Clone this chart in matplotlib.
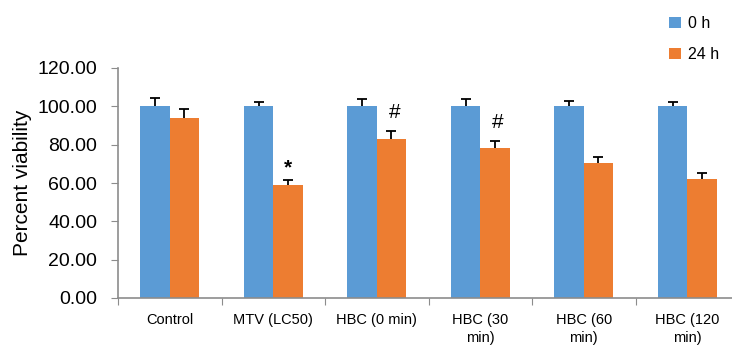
import matplotlib.pyplot as plt
import numpy as np

plt.rcParams['font.family'] = ['Liberation Sans', 'DejaVu Sans']

categories = ["Control", "MTV (LC50)", "HBC (0 min)", "HBC (30\nmin)", "HBC (60\nmin)", "HBC (120\nmin)"]
series_names = ["0 h", "24 h"]
vals_0h = [100.0, 100.0, 100.0, 100.0, 100.0, 100.0]
err_0h = [4.4, 2.1, 3.6, 3.6, 2.9, 2.1]
vals_24h = [94.1, 59.0, 82.8, 78.1, 70.6, 61.9]
err_24h = [4.6, 2.6, 4.5, 3.8, 3.1, 3.1]
marks = ["", "*", "#", "#", "", ""]
y_ticks = [0, 20, 40, 60, 80, 100, 120]

blue = "#5B9BD5"
orange = "#ED7D31"
spine_col = "#8C8C8C"

fig = plt.figure(figsize=(7.32, 3.55), dpi=100)
ax = fig.add_axes([118 / 732, 1 - 298 / 355, 621 / 732, 230 / 355])

x = np.arange(len(categories))
w = 0.285
for xs, vals, errs, col, name in [(x - w / 2, vals_0h, err_0h, blue, series_names[0]),
                                  (x + w / 2, vals_24h, err_24h, orange, series_names[1])]:
    ax.bar(xs, vals, w, color=col, label=name)
    tops = np.array(vals) + np.array(errs)
    # upper error bar only
    ax.vlines(xs, vals, tops, color="black", lw=1.3)
    ax.plot(xs, tops, ls="none", marker="_", ms=7, mew=1.3, color="black")

for i, m in enumerate(marks):
    if m == "*":
        ax.text(x[i] + w / 2, vals_24h[i] + err_24h[i] + 1.5, m, ha="center", va="bottom",
                fontsize=15, fontweight="bold")
    elif m:
        ax.text(x[i] + w / 2 + 0.03, vals_24h[i] + err_24h[i] + 4.5, m, ha="center", va="bottom",
                fontsize=15)

ax.set_xlim(-0.5, len(categories) - 0.5)
ax.set_ylim(0, 120)
ax.set_yticks(y_ticks)
ax.set_yticklabels([f"{v:.2f}" for v in y_ticks], fontsize=14)
ax.set_xticks(np.arange(-0.5, len(categories), 1.0))
ax.set_xticklabels([])
ax.set_xticks(x, minor=True)
ax.set_xticklabels(categories, minor=True, fontsize=10.5, linespacing=1.35)
ax.tick_params(axis="x", which="minor", length=0, pad=11)
ax.tick_params(axis="x", which="major", length=5, color=spine_col)
ax.tick_params(axis="y", length=5, color=spine_col, pad=10)
ax.set_ylabel("Percent viability", fontsize=15, labelpad=4)

for s in ["top", "right"]:
    ax.spines[s].set_visible(False)
for s in ["left", "bottom"]:
    ax.spines[s].set_color(spine_col)
    ax.spines[s].set_linewidth(1.2)

ax.legend(loc="upper left", bbox_to_anchor=(658 / 732, 1 - 5 / 355), bbox_transform=fig.transFigure,
          frameon=False, fontsize=11.5, handlelength=0.75, handleheight=0.75,
          handletextpad=0.4, labelspacing=1.0, borderaxespad=0.3)

fig.savefig("out.png", dpi=100)
